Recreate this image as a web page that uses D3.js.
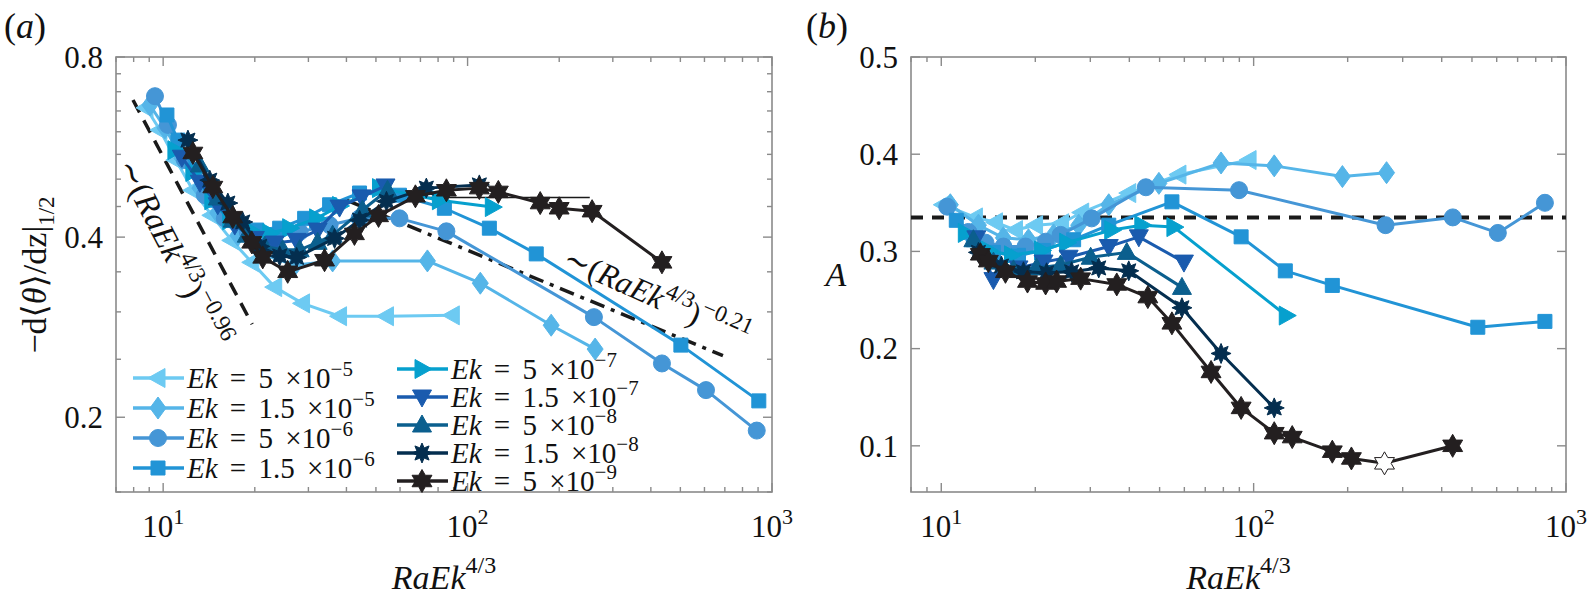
<!DOCTYPE html>
<html>
<head>
<meta charset="utf-8">
<script src="https://cdn.jsdelivr.net/npm/d3@7"></script>
<style>
  body { margin: 0; background: #fff; }
  svg, text { font-family: "Liberation Serif", "DejaVu Serif", "Times New Roman", serif; }
  text { fill: #111; }
</style>
</head>
<body>
<svg id="chart" width="1589" height="605" font-family="Liberation Serif, DejaVu Serif, serif"></svg>
<script>
// Ek values of the nine runs (mantissa / exponent), light to dark
var ekMant = ["5", "1.5", "5", "1.5", "5", "1.5", "5", "1.5", "5"];
var ekExp = ["\u22125", "\u22125", "\u22126", "\u22126", "\u22127", "\u22127", "\u22128", "\u22128", "\u22129"];
var colors = ["#6dcaf2", "#55b5e8", "#4596d6", "#2194d6", "#06a0ce", "#1a5bae", "#0b5f8e", "#042e4f", "#231f20"];
var markers = ["left", "diamond", "circle", "square", "right", "down", "up", "asterisk", "hexagram"];

// panel (a): RaEk^{4/3} and -d<theta>/dz at mid height
var aX = [
  [8.78, 9.76, 11.01, 12.52, 14.45, 16.8, 19.54, 23.25, 28.7, 37.97, 54.15, 89.1],
  [9.05, 10.13, 11.52, 13.2, 15.11, 17.58, 21.08, 27.04, 36.03, 73.8, 110.1, 188.2, 262.4],
  [9.40, 10.37, 11.79, 13.71, 15.94, 18.96, 22.73, 28.08, 35.22, 44.17, 59.74, 85.2, 260, 435, 607, 891],
  [10.29, 11.18, 12.71, 14.78, 17.19, 20.29, 24.14, 29.16, 35.22, 44.17, 59.74, 83.9, 117.9, 168.1, 502, 905],
  [10.93, 12.52, 14.45, 16.55, 19.24, 22.39, 26.04, 31.92, 37.97, 51.36, 80.8, 120.6],
  [11.52, 13.2, 15.11, 17.19, 20.0, 23.25, 27.45, 32.17, 37.97, 44.84, 53.74],
  [13.2, 15.11, 16.93, 18.82, 21.56, 24.7, 28.08, 32.17, 36.03, 45.17, 54.57],
  [12.06, 14.23, 16.31, 18.26, 20.76, 24.14, 27.45, 36.57, 44.17, 54.15, 73.2, 109.3],
  [12.52, 14.56, 16.93, 19.54, 21.24, 25.65, 33.9, 42.5, 51.0, 67.4, 85.2, 109.3, 126.2, 173.2, 199.9, 256.5, 435.0]
];
var aY = [
  [0.658, 0.604, 0.538, 0.479, 0.435, 0.395, 0.363, 0.330, 0.310, 0.295, 0.295, 0.296],
  [0.665, 0.609, 0.542, 0.483, 0.439, 0.403, 0.375, 0.359, 0.365, 0.365, 0.335, 0.285, 0.260],
  [0.688, 0.616, 0.538, 0.470, 0.430, 0.408, 0.402, 0.408, 0.419, 0.430, 0.430, 0.409, 0.294, 0.246, 0.222, 0.190],
  [0.640, 0.581, 0.518, 0.461, 0.427, 0.411, 0.414, 0.430, 0.453, 0.474, 0.470, 0.447, 0.414, 0.375, 0.264, 0.213],
  [0.559, 0.514, 0.461, 0.427, 0.411, 0.406, 0.414, 0.430, 0.451, 0.483, 0.461, 0.449],
  [0.544, 0.494, 0.453, 0.419, 0.398, 0.391, 0.395, 0.411, 0.449, 0.467, 0.487],
  [0.528, 0.465, 0.427, 0.403, 0.386, 0.381, 0.381, 0.392, 0.403, 0.444, 0.479],
  [0.581, 0.498, 0.456, 0.424, 0.386, 0.372, 0.370, 0.398, 0.427, 0.459, 0.483, 0.489],
  [0.553, 0.485, 0.432, 0.392, 0.370, 0.350, 0.366, 0.405, 0.434, 0.468, 0.479, 0.483, 0.476, 0.456, 0.447, 0.442, 0.363]
];

// panel (b): RaEk^{4/3} and A
var bX = [
  [10.15, 12.86, 14.91, 17.28, 20.04, 24.28, 28.15, 39.83, 57.66, 96.7],
  [10.69, 13.15, 15.81, 19.02, 22.88, 27.54, 34.37, 49.74, 78.65, 116.4, 192.4, 266.4],
  [10.45, 12.21, 13.85, 15.81, 18.61, 21.58, 24.1, 30.3, 45.18, 89.8, 264.4, 434, 605, 856],
  [11.17, 12.67, 14.69, 17.67, 21.25, 26.53, 34.37, 54.75, 91.19, 126.3, 178.6, 522, 856],
  [11.94, 14.15, 16.78, 20.94, 25.2, 35.13, 43.86, 55.56, 127.2],
  [12.95, 14.69, 17.67, 21.25, 25.57, 34.37, 42.9, 59.83],
  [12.67, 14.69, 17.03, 20.18, 24.1, 30.08, 39.26, 58.95],
  [13.15, 15.58, 18.33, 21.73, 26.14, 31.92, 39.83, 58.95, 78.65, 116.4],
  [13.34, 14.15, 16.05, 18.88, 21.58, 23.40, 27.94, 36.46, 45.85, 54.75, 73.06, 91.19, 116.4, 132.9, 178.6, 205.6, 262.4, 433.7]
];
var bY = [
  [0.348, 0.335, 0.330, 0.322, 0.327, 0.329, 0.340, 0.360, 0.379, 0.394],
  [0.348, 0.327, 0.314, 0.312, 0.317, 0.327, 0.348, 0.370, 0.391, 0.388, 0.377, 0.381],
  [0.346, 0.320, 0.309, 0.305, 0.305, 0.310, 0.317, 0.334, 0.366, 0.363, 0.327, 0.335, 0.319, 0.350],
  [0.332, 0.312, 0.299, 0.296, 0.301, 0.312, 0.327, 0.351, 0.315, 0.280, 0.265, 0.222, 0.228],
  [0.319, 0.301, 0.296, 0.301, 0.309, 0.322, 0.327, 0.325, 0.234],
  [0.314, 0.271, 0.283, 0.289, 0.294, 0.305, 0.315, 0.289],
  [0.312, 0.289, 0.281, 0.283, 0.286, 0.294, 0.299, 0.263],
  [0.299, 0.285, 0.279, 0.278, 0.279, 0.283, 0.280, 0.242, 0.195, 0.139],
  [0.297, 0.290, 0.279, 0.269, 0.267, 0.269, 0.272, 0.266, 0.253, 0.226, 0.176, 0.139, 0.113, 0.109, 0.094, 0.087, 0.082, 0.100]
];
// the one open (unfilled) star in panel (b)
var bOpenSeries = 8, bOpenIndex = 16;

// scaling lines
var fitSteepX = [7.96, 19.6], fitSteepY = [0.678, 0.286];     // ~ (RaEk^4/3)^-0.96
var fitShallowX = [40, 690], fitShallowY = [0.461, 0.2535];   // ~ (RaEk^4/3)^-0.21
var flatX = [60, 252], flatY = [0.466, 0.466];
var refA = 0.335;

// ticks
var xTicksA = [7, 8, 9, 10, 20, 30, 40, 50, 60, 70, 80, 90, 100, 200, 300, 400, 500, 600, 700, 800, 900, 1000];
var xTicksB = xTicksA.slice(1);
var xLabels = [10, 100, 1000];
var yTicksA = [0.15, 0.2, 0.25, 0.3, 0.35, 0.4, 0.45, 0.5, 0.55, 0.6, 0.65, 0.7, 0.75, 0.8];
var yLabelsA = [0.2, 0.4, 0.8];
var yTicksB = [0.1, 0.2, 0.3, 0.4, 0.5];

var svg = d3.select("#chart");

var boxA = {left: 116, right: 772, top: 57, bottom: 492};
var boxB = {left: 911, right: 1566, top: 57, bottom: 492};

var xa = d3.scaleLog().domain([7, 1000]).range([boxA.left, boxA.right]);
var ya = d3.scaleLog().domain([0.15, 0.8]).range([boxA.bottom, boxA.top]);
var xb = d3.scaleLog().domain([8, 1000]).range([boxB.left, boxB.right]);
var yb = d3.scaleLinear().domain([0.0525, 0.5]).range([boxB.bottom, boxB.top]);

function star(n, ro, ri) {
  var p = [];
  for (var i = 0; i < 2 * n; i++) {
    var a = Math.PI * i / n - Math.PI / 2, r = i % 2 ? ri : ro;
    p.push([(r * Math.cos(a)).toFixed(2), (r * Math.sin(a)).toFixed(2)]);
  }
  return "M" + p.join("L") + "Z";
}
var shapes = {
  left: "M-10,0L7,-9.5L7,9.5Z",
  right: "M10,0L-7,-9.5L-7,9.5Z",
  up: "M0,-10L9.5,7L-9.5,7Z",
  down: "M0,10L9.5,-7L-9.5,-7Z",
  diamond: "M0,-11L8,0L0,11L-8,0Z",
  square: "M-7,-7L7,-7L7,7L-7,7Z",
  circle: "M8.5,0A8.5,8.5 0 1,1 -8.5,0A8.5,8.5 0 1,1 8.5,0Z",
  asterisk: star(8, 10, 5.5),
  hexagram: star(6, 11.5, 6.6)
};

function axes(x, y, box, xt, yt, yMajor) {
  var g = svg.append("g").attr("class", "axes");
  var len = function(v, major) { return major.indexOf(v) >= 0 ? -9 : -5; };
  xt.forEach(function(v) {
    var l = len(v, xLabels);
    g.append("line").attr("x1", x(v)).attr("x2", x(v)).attr("y1", box.bottom).attr("y2", box.bottom + l);
    g.append("line").attr("x1", x(v)).attr("x2", x(v)).attr("y1", box.top).attr("y2", box.top - l);
  });
  yt.forEach(function(v) {
    var l = len(v, yMajor);
    g.append("line").attr("y1", y(v)).attr("y2", y(v)).attr("x1", box.left).attr("x2", box.left - l);
    g.append("line").attr("y1", y(v)).attr("y2", y(v)).attr("x1", box.right).attr("x2", box.right + l);
  });
  g.selectAll("line").attr("stroke", "#8a8a8a").attr("stroke-width", 1.4);
  g.append("rect").attr("x", box.left).attr("y", box.top)
    .attr("width", box.right - box.left).attr("height", box.bottom - box.top)
    .attr("fill", "none").attr("stroke", "#8a8a8a").attr("stroke-width", 1.6);

  xLabels.forEach(function(v, i) {
    var t = svg.append("text").attr("x", x(v)).attr("y", box.bottom + 45)
      .attr("text-anchor", "middle").attr("font-size", 31);
    t.append("tspan").text("10");
    t.append("tspan").attr("font-size", 22).attr("dy", -13).text(i + 1);
  });
  yMajor.forEach(function(v) {
    svg.append("text").attr("x", box.left - 13).attr("y", y(v)).attr("dy", "0.35em")
      .attr("text-anchor", "end").attr("font-size", 31).text(d3.format(".1f")(v));
  });
  var xl = svg.append("text").attr("x", (box.left + box.right) / 2).attr("y", box.bottom + 97)
    .attr("text-anchor", "middle").attr("font-size", 34);
  xl.append("tspan").attr("font-style", "italic").text("RaEk");
  xl.append("tspan").attr("font-size", 24).attr("dy", -16).text("4/3");
}

function series(x, y, xs, ys, openS, openI) {
  xs.forEach(function(xv, i) {
    var pts = xv.map(function(v, j) { return [v, ys[i][j]]; });
    var g = svg.append("g");
    g.append("path").datum(pts)
      .attr("fill", "none").attr("stroke", colors[i]).attr("stroke-width", 3)
      .attr("stroke-linejoin", "round")
      .attr("d", d3.line().x(function(d) { return x(d[0]); }).y(function(d) { return y(d[1]); }));
    g.selectAll(null).data(pts).enter().append("path")
      .attr("transform", function(d) { return "translate(" + x(d[0]) + "," + y(d[1]) + ")"; })
      .attr("d", shapes[markers[i]])
      .attr("fill", function(d, j) { return (i === openS && j === openI) ? "#fff" : colors[i]; })
      .attr("stroke", colors[i]).attr("stroke-width", 1);
  });
}

// ---------- panel (a)
axes(xa, ya, boxA, xTicksA, yTicksA, yLabelsA);

svg.append("path").datum(d3.zip(fitSteepX, fitSteepY))
  .attr("fill", "none").attr("stroke", "#1a1a1a").attr("stroke-width", 3.5)
  .attr("stroke-dasharray", "14,9")
  .attr("d", d3.line().x(function(d) { return xa(d[0]); }).y(function(d) { return ya(d[1]); }));
svg.append("path").datum(d3.zip(fitShallowX, fitShallowY))
  .attr("fill", "none").attr("stroke", "#1a1a1a").attr("stroke-width", 3.5)
  .attr("stroke-dasharray", "15,7,4,7")
  .attr("d", d3.line().x(function(d) { return xa(d[0]); }).y(function(d) { return ya(d[1]); }));
svg.append("path").datum(d3.zip(flatX, flatY))
  .attr("fill", "none").attr("stroke", "#1a1a1a").attr("stroke-width", 1.5)
  .attr("d", d3.line().x(function(d) { return xa(d[0]); }).y(function(d) { return ya(d[1]); }));

series(xa, ya, aX, aY, -1, -1);

function scaling(x0, y0, angle, size, expo) {
  var t = svg.append("text").attr("transform", "translate(" + x0 + "," + y0 + ") rotate(" + angle + ")")
    .attr("font-size", size);
  t.append("tspan").text("\u223C(");
  t.append("tspan").attr("font-style", "italic").text("RaEk");
  t.append("tspan").attr("font-size", size * 0.72).attr("dy", -14).text("4/3");
  t.append("tspan").attr("dy", 14).text(")");
  t.append("tspan").attr("font-size", size * 0.72).attr("dy", -14).text(expo);
}
scaling(116, 166, 62.5, 33, "\u22120.96");
scaling(561, 266, 24, 32, "\u22120.21");

// legend
ekMant.forEach(function(m, i) {
  var col = i < 4 ? 0 : 1;
  var r = col ? i - 4 : i;
  var x0 = col ? 397 : 133, y0 = col ? 369 + r * 28 : 378 + r * 30;
  svg.append("line").attr("x1", x0).attr("x2", x0 + 51).attr("y1", y0).attr("y2", y0)
    .attr("stroke", colors[i]).attr("stroke-width", 3.5);
  svg.append("path").attr("transform", "translate(" + (x0 + 25) + "," + y0 + ")")
    .attr("d", shapes[markers[i]]).attr("fill", colors[i]).attr("stroke", colors[i]);
  var t = svg.append("text").attr("x", x0 + 54).attr("y", y0 + 10).attr("font-size", 29)
    .attr("word-spacing", 5);
  t.append("tspan").attr("font-style", "italic").text("Ek");
  t.append("tspan").text(" = " + m + " \u00D710");
  t.append("tspan").attr("font-size", 21).attr("dy", -12).text(ekExp[i]);
});

// y label (a)
var yl = svg.append("text").attr("transform", "translate(46,275) rotate(-90)")
  .attr("text-anchor", "middle").attr("font-size", 34);
yl.append("tspan").text("\u2212d\u27E8");
yl.append("tspan").attr("font-style", "italic").text("\u03B8");
yl.append("tspan").text("\u27E9/dz|");
yl.append("tspan").attr("font-size", 23).attr("dy", 8).text("1/2");

// ---------- panel (b)
axes(xb, yb, boxB, xTicksB, yTicksB, yTicksB);
svg.append("path").datum([[8, refA], [1000, refA]])
  .attr("fill", "none").attr("stroke", "#1a1a1a").attr("stroke-width", 4)
  .attr("stroke-dasharray", "12,9")
  .attr("d", d3.line().x(function(d) { return xb(d[0]); }).y(function(d) { return yb(d[1]); }));
series(xb, yb, bX, bY, bOpenSeries, bOpenIndex);

svg.append("text").attr("x", 836).attr("y", 286).attr("text-anchor", "middle")
  .attr("font-size", 34).attr("font-style", "italic").text("A");

// panel tags
[["(a)", 4], ["(b)", 806]].forEach(function(p) {
  var t = svg.append("text").attr("x", p[1]).attr("y", 38).attr("font-size", 36);
  t.append("tspan").text("(");
  t.append("tspan").attr("font-style", "italic").text(p[0][1]);
  t.append("tspan").text(")");
});
</script>
</body>
</html>
